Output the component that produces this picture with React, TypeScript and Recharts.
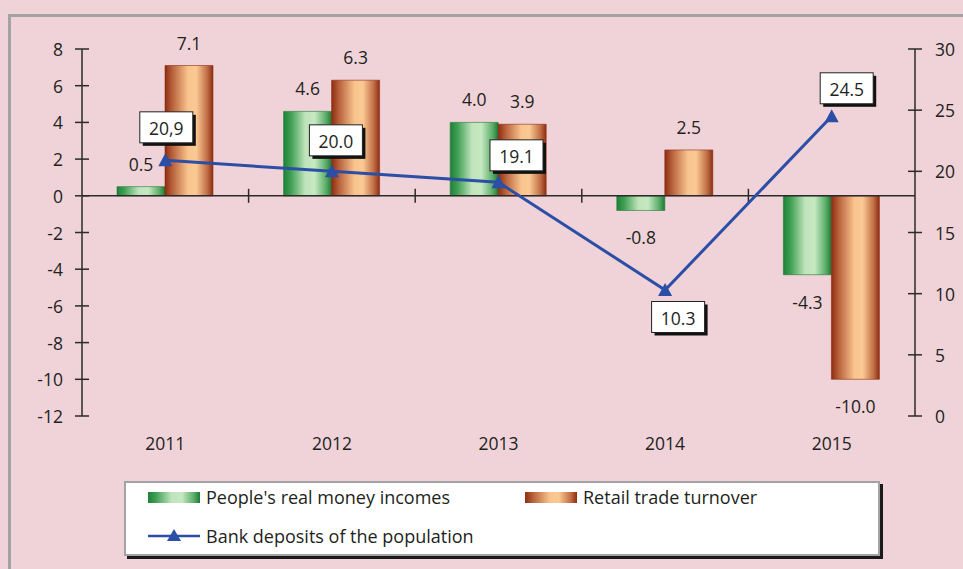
import React from "react";
import {
  ComposedChart,
  Bar,
  Line,
  XAxis,
  YAxis,
  ReferenceLine,
  LabelList,
} from "recharts";

// values
const years = ["2011", "2012", "2013", "2014", "2015"];
const realIncomes = [0.5, 4.6, 4.0, -0.8, -4.3];
const retailTurnover = [7.1, 6.3, 3.9, 2.5, -10.0];
const bankDeposits = [20.9, 20.0, 19.1, 10.3, 24.5];
const depositLabels = ["20,9", "20.0", "19.1", "10.3", "24.5"];
const leftTicks = [-12, -10, -8, -6, -4, -2, 0, 2, 4, 6, 8];
const rightTicks = [0, 5, 10, 15, 20, 25, 30];

const data = years.map((year, i) => ({
  year,
  incomes: realIncomes[i],
  retail: retailTurnover[i],
  deposits: bankDeposits[i],
}));

const FONT = "'Open Sans', Lato, sans-serif";
const TEXT = "#231f20";
const AXIS = "#2b2b2b";
const BLUE = "#2c4ea6";
const BG = "#efd3d8";
const FS = 17.5;

// where each deposit box sits relative to its marker
const boxShift = [
  [1, -33],
  [4, -31],
  [18, -27],
  [13, 27],
  [15, -28],
];

const LeftTick = ({ x, y, payload }: any) => (
  <g>
    <line x1={x - 7} x2={x + 7} y1={y} y2={y} stroke={AXIS} strokeWidth={1.5} />
    <text
      x={x - 19}
      y={y}
      textAnchor="end"
      dominantBaseline="central"
      fill={TEXT}
      fontSize={FS}
      fontFamily={FONT}
    >
      {payload.value}
    </text>
  </g>
);

const RightTick = ({ x, y, payload }: any) => (
  <g>
    <line x1={x - 7} x2={x + 7} y1={y} y2={y} stroke={AXIS} strokeWidth={1.5} />
    <text
      x={x + 20}
      y={y}
      textAnchor="start"
      dominantBaseline="central"
      fill={TEXT}
      fontSize={FS}
      fontFamily={FONT}
    >
      {payload.value}
    </text>
  </g>
);

const YearTick = ({ x, y, payload }: any) => (
  <text
    x={x}
    y={y + 27}
    textAnchor="middle"
    dominantBaseline="central"
    fill={TEXT}
    fontSize={FS}
    fontFamily={FONT}
  >
    {payload.value}
  </text>
);

// zero line with small ticks at the category boundaries
const ZeroLine = (props: any) => {
  const { x1, x2, y1 } = props;
  const step = (x2 - x1) / years.length;
  return (
    <g>
      <line x1={x1} x2={x2} y1={y1} y2={y1} stroke={AXIS} strokeWidth={1.5} />
      {years.slice(1).map((_, i) => (
        <line
          key={i}
          x1={x1 + step * (i + 1)}
          x2={x1 + step * (i + 1)}
          y1={y1 - 7}
          y2={y1 + 7}
          stroke={AXIS}
          strokeWidth={1.5}
        />
      ))}
    </g>
  );
};

const BarValue = (props: any) => {
  const { x, y, width, height, value } = props;
  const top = Math.min(y, y + height);
  const bottom = Math.max(y, y + height);
  const ty = value >= 0 ? top - 23 : bottom + 27;
  return (
    <text
      x={x + width / 2}
      y={ty}
      textAnchor="middle"
      dominantBaseline="central"
      fill={TEXT}
      fontSize={FS}
      fontFamily={FONT}
    >
      {value.toFixed(1)}
    </text>
  );
};

const DepositBox = (props: any) => {
  const { x, y, index } = props;
  const [dx, dy] = boxShift[index];
  const cx = x + dx;
  const cy = y + dy;
  const w = 53;
  const h = 31;
  return (
    <g>
      <rect x={cx - w / 2 + 3} y={cy - h / 2 + 3} width={w} height={h} fill="#111" />
      <rect
        x={cx - w / 2}
        y={cy - h / 2}
        width={w}
        height={h}
        fill="#fff"
        stroke="#222"
        strokeWidth={1}
      />
      <text
        x={cx}
        y={cy + 1}
        textAnchor="middle"
        dominantBaseline="central"
        fill={TEXT}
        fontSize={FS}
        fontFamily={FONT}
      >
        {depositLabels[index]}
      </text>
    </g>
  );
};

const Triangle = (props: any) => {
  const { cx, cy } = props;
  if (cx == null || cy == null) return null;
  return (
    <polygon
      points={`${cx},${cy - 7} ${cx - 7},${cy + 6} ${cx + 7},${cy + 6}`}
      fill={BLUE}
    />
  );
};

const greenCss =
  "linear-gradient(to right, #1d8238 0%, #3f9f53 15%, #bfe3bb 45%, #c6e8c2 65%, #5cae69 88%, #1d7a36 100%)";
const orangeCss =
  "linear-gradient(to right, #8c2d12 0%, #b7603a 15%, #f9c48e 48%, #fbc994 65%, #c06e45 88%, #8c2d12 100%)";

export default function App() {
  return (
    <div
      style={{
        position: "absolute",
        left: 0,
        top: 0,
        width: 963,
        height: 569,
        background: BG,
        overflow: "hidden",
        fontFamily: FONT,
      }}
    >
      {/* outer frame */}
      <div
        style={{
          position: "absolute",
          left: 8,
          top: 14,
          width: 1000,
          height: 600,
          borderTop: "3px solid #a3a3a3",
          borderLeft: "3px solid #a3a3a3",
        }}
      />
      <div style={{ position: "absolute", left: 0, top: 0 }}>
        <ComposedChart
          width={963}
          height={470}
          data={data}
          margin={{ top: 49, right: 0, bottom: 14, left: 22 }}
          barGap={0}
          barSize={48}
        >
          <defs>
            <linearGradient id="greenGrad" x1="0" y1="0" x2="1" y2="0">
              <stop offset="0%" stopColor="#1d8238" />
              <stop offset="15%" stopColor="#3f9f53" />
              <stop offset="45%" stopColor="#bfe3bb" />
              <stop offset="65%" stopColor="#c6e8c2" />
              <stop offset="88%" stopColor="#5cae69" />
              <stop offset="100%" stopColor="#1d7a36" />
            </linearGradient>
            <linearGradient id="orangeGrad" x1="0" y1="0" x2="1" y2="0">
              <stop offset="0%" stopColor="#8c2d12" />
              <stop offset="15%" stopColor="#b7603a" />
              <stop offset="48%" stopColor="#f9c48e" />
              <stop offset="65%" stopColor="#fbc994" />
              <stop offset="88%" stopColor="#c06e45" />
              <stop offset="100%" stopColor="#8c2d12" />
            </linearGradient>
          </defs>
          <XAxis
            dataKey="year"
            height={40}
            axisLine={false}
            tickLine={false}
            tickSize={0}
            tickMargin={0}
            tick={<YearTick />}
            interval={0}
          />
          <YAxis
            yAxisId="left"
            width={60}
            domain={[-12, 8]}
            ticks={leftTicks}
            interval={0}
            allowDataOverflow
            axisLine={{ stroke: AXIS, strokeWidth: 1.5 }}
            tickLine={false}
            tickSize={0}
            tickMargin={0}
            tick={<LeftTick />}
          />
          <YAxis
            yAxisId="right"
            orientation="right"
            width={48}
            domain={[0, 30]}
            ticks={rightTicks}
            interval={0}
            allowDataOverflow
            axisLine={{ stroke: AXIS, strokeWidth: 1.5 }}
            tickLine={false}
            tickSize={0}
            tickMargin={0}
            tick={<RightTick />}
          />
          <Bar
            yAxisId="left"
            dataKey="incomes"
            fill="url(#greenGrad)"
            stroke="#1d7a36"
            strokeWidth={0.6}
            isAnimationActive={false}
          >
            <LabelList dataKey="incomes" content={<BarValue />} />
          </Bar>
          <Bar
            yAxisId="left"
            dataKey="retail"
            fill="url(#orangeGrad)"
            stroke="#8c2d12"
            strokeWidth={0.6}
            isAnimationActive={false}
          >
            <LabelList dataKey="retail" content={<BarValue />} />
          </Bar>
          <ReferenceLine yAxisId="left" y={0} shape={<ZeroLine />} />
          <Line
            yAxisId="right"
            dataKey="deposits"
            stroke={BLUE}
            strokeWidth={3}
            dot={<Triangle />}
            activeDot={false}
            isAnimationActive={false}
          >
            <LabelList dataKey="deposits" content={<DepositBox />} />
          </Line>
        </ComposedChart>
      </div>
      {/* legend */}
      <div
        style={{
          position: "absolute",
          left: 124,
          top: 481,
          width: 752,
          height: 71,
          background: "#fff",
          border: "2px solid #a3a3a3",
          boxShadow: "3px 3px 0 #1a1a1a",
          color: TEXT,
          fontSize: 18,
        }}
      >
        <div style={{ position: "absolute", left: 22, top: 9, width: 52, height: 11, background: greenCss }} />
        <div style={{ position: "absolute", left: 80, top: 3, lineHeight: "22px" }}>
          People's real money incomes
        </div>
        <div style={{ position: "absolute", left: 399, top: 9, width: 52, height: 11, background: orangeCss }} />
        <div style={{ position: "absolute", left: 457, top: 3, lineHeight: "22px" }}>
          Retail trade turnover
        </div>
        <svg style={{ position: "absolute", left: 22, top: 44 }} width={52} height={16}>
          <line x1={0} x2={52} y1={9} y2={9} stroke={BLUE} strokeWidth={2.5} />
          <polygon points="26,2 19,14 33,14" fill={BLUE} />
        </svg>
        <div style={{ position: "absolute", left: 80, top: 42, lineHeight: "22px" }}>
          Bank deposits of the population
        </div>
      </div>
    </div>
  );
}
